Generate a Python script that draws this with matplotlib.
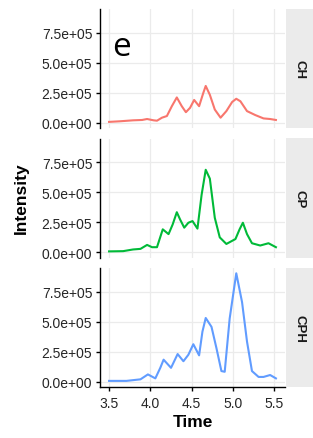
import numpy as np
import matplotlib.pyplot as plt

plt.rcParams['font.family'] = ['Liberation Sans', 'DejaVu Sans']

# hand-read traces, intensity in units of 1e5
ch_time = [3.50, 3.63, 3.79, 3.90, 3.96, 4.04, 4.08, 4.14, 4.20, 4.26, 4.32, 4.38, 4.43,
           4.48, 4.53, 4.59, 4.64, 4.67, 4.72, 4.78, 4.85, 4.92, 4.99, 5.04, 5.09, 5.17,
           5.27, 5.37, 5.45, 5.52]
ch_int = [0.06, 0.11, 0.19, 0.22, 0.30, 0.19, 0.16, 0.41, 0.55, 1.37, 2.10, 1.37, 0.87,
          1.23, 1.89, 1.37, 2.46, 3.06, 2.32, 1.09, 0.41, 0.96, 1.72, 1.99, 1.78, 0.96,
          0.63, 0.35, 0.30, 0.22]

cp_time = [3.50, 3.67, 3.79, 3.88, 3.96, 4.02, 4.08, 4.15, 4.22, 4.27, 4.32, 4.36, 4.41,
           4.46, 4.51, 4.57, 4.62, 4.67, 4.72, 4.78, 4.84, 4.92, 5.03, 5.08, 5.12, 5.17,
           5.23, 5.33, 5.43, 5.52]
cp_int = [0.06, 0.08, 0.22, 0.27, 0.60, 0.41, 0.41, 1.90, 1.50, 2.31, 3.33, 2.72, 2.04,
          2.45, 2.59, 1.96, 4.77, 6.87, 6.13, 2.86, 1.23, 0.68, 1.09, 1.90, 2.45, 1.50,
          0.74, 0.55, 0.74, 0.41]

cph_time = [3.50, 3.71, 3.88, 3.97, 4.06, 4.12, 4.16, 4.25, 4.33, 4.40, 4.46, 4.52, 4.59,
            4.63, 4.67, 4.74, 4.80, 4.86, 4.90, 4.96, 5.04, 5.11, 5.17, 5.23, 5.31, 5.37,
            5.45, 5.52]
cph_int = [0.06, 0.06, 0.19, 0.60, 0.27, 1.15, 1.83, 1.15, 2.30, 1.70, 2.24, 3.12, 2.19,
           4.16, 5.31, 4.57, 2.79, 0.88, 0.82, 5.26, 9.04, 6.63, 3.34, 0.88, 0.39, 0.39,
           0.55, 0.27]

groups = ['CH', 'CP', 'CPH']
colors = ['#F8766D', '#00BA38', '#619CFF']
series = [(ch_time, ch_int), (cp_time, cp_int), (cph_time, cph_int)]
yticks = [0, 2.5e5, 5.0e5, 7.5e5]
ytick_labels = ['0.0e+00', '2.5e+05', '5.0e+05', '7.5e+05']
xticks = [3.5, 4.0, 4.5, 5.0, 5.5]

fig = plt.figure(figsize=(3.13, 4.39), dpi=100)
W, H = 313, 439
left, right = 100, 285
tops = [10, 139.5, 269]
ph = 119

for i, (name, col, (t, v)) in enumerate(zip(groups, colors, series)):
    top = tops[i]
    ax = fig.add_axes([left / W, 1 - (top + ph) / H, (right - left) / W, ph / H])
    ax.plot(t, np.array(v) * 1e5, color=col, lw=1.5, solid_joinstyle='round')
    ax.set_xlim(3.39, 5.63)
    ax.set_ylim(-0.45e5, 9.48e5)
    ax.set_yticks(yticks)
    ax.set_yticklabels(ytick_labels, fontsize=10, color='#262626')
    ax.set_xticks(xticks)
    ax.grid(True, color='#ebebeb', lw=0.9)
    ax.set_axisbelow(True)
    for s in ['top', 'right']:
        ax.spines[s].set_visible(False)
    ax.spines['left'].set_linewidth(1.0)
    ax.spines['bottom'].set_linewidth(1.0)
    ax.tick_params(length=3, width=1.0)
    ax.tick_params(axis='y', pad=2.5)
    ax.tick_params(axis='x', pad=3.5)
    if i < 2:
        ax.spines['bottom'].set_visible(False)
        ax.tick_params(axis='x', length=0, labelbottom=False)
    else:
        ax.set_xticklabels(['3.5', '4.0', '4.5', '5.0', '5.5'], fontsize=10, color='#262626')
        ax.set_xlabel('Time', fontsize=12.5, fontweight='bold', labelpad=3)

    # facet strip
    sx = fig.add_axes([286 / W, 1 - (top + ph) / H, (W - 286) / W, ph / H])
    sx.set_facecolor('#ebebeb')
    sx.set_xticks([])
    sx.set_yticks([])
    for s in sx.spines.values():
        s.set_visible(False)
    sx.text(0.5, 0.5, name, rotation=270, ha='center', va='center',
            fontsize=9.5, fontweight='bold', color='#1a1a1a', transform=sx.transAxes)

    if i == 0:
        ax.text(0.114, 0.61, 'e', transform=ax.transAxes, fontsize=24,
                family=['Open Sans', 'DejaVu Sans'], va='baseline', ha='center')

fig.text(21 / W, 1 - 198 / H, 'Intensity', rotation=90, ha='center', va='center',
         fontsize=12.5, fontweight='bold')

fig.savefig('out.png', dpi=100)
